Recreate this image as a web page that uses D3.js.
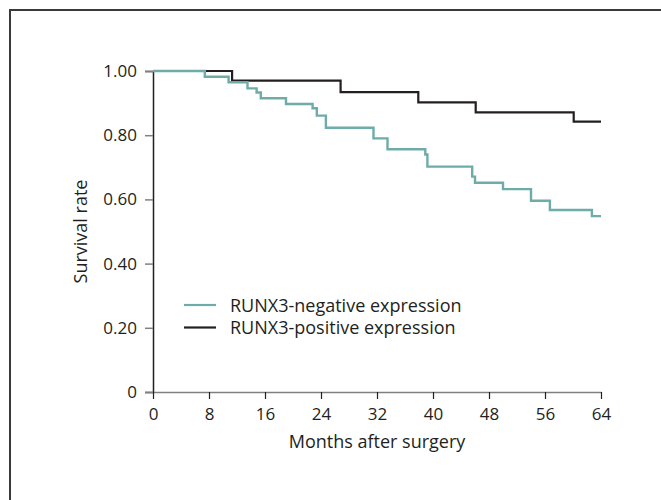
<!DOCTYPE html>
<html>
<head>
<meta charset="utf-8">
<script src="https://cdn.jsdelivr.net/npm/d3@7"></script>
<style>
  body { margin: 0; background: #fff; }
  svg text { font-family: "Open Sans", sans-serif; fill: #231f20; }
</style>
</head>
<body>
<svg width="661" height="500"></svg>
<script>
// Kaplan-Meier steps (months, survival)
const negTimes = [0, 7.4, 10.8, 13.5, 14.8, 15.4, 19.0, 22.8, 23.4, 24.7, 31.5, 33.5, 38.9, 39.2, 45.6, 46.0, 50.0, 54.0, 56.7, 62.7, 64];
const negSurv = [1.00, 0.982, 0.965, 0.946, 0.933, 0.915, 0.897, 0.884, 0.861, 0.823, 0.790, 0.756, 0.740, 0.702, 0.671, 0.652, 0.632, 0.596, 0.567, 0.548, 0.548];
const posTimes = [0, 11.3, 26.8, 37.9, 46.1, 60.1, 64];
const posSurv = [1.00, 0.970, 0.934, 0.902, 0.871, 0.842, 0.842];

const xTicks = [0, 8, 16, 24, 32, 40, 48, 56, 64];
const yTicks = [0, 0.2, 0.4, 0.6, 0.8, 1.0];
const legendLabels = ["RUNX3-negative expression", "RUNX3-positive expression"];

const teal = "#6eaca9";
const dark = "#231f20";

const svg = d3.select("svg");

// outer frame (runs off the right and bottom edges)
svg.append("rect")
    .attr("x", 10).attr("y", 10)
    .attr("width", 700).attr("height", 540)
    .attr("fill", "none").attr("stroke", "#3a3a3a").attr("stroke-width", 2);

const x = d3.scaleLinear().domain([0, 64]).range([153, 601]);
const y = d3.scaleLinear().domain([0, 1]).range([392, 71]);

// axes
const yAxis = svg.append("g").attr("transform", "translate(153,0)")
    .call(d3.axisLeft(y).tickValues(yTicks).tickSize(8).tickPadding(8)
        .tickFormat(d => d === 0 ? "0" : d3.format(".2f")(d)));
yAxis.select(".domain").attr("stroke", dark).attr("stroke-width", 1.5);
yAxis.selectAll(".tick line").attr("stroke", "#808080").attr("stroke-width", 1.5);
yAxis.selectAll(".tick text").style("font-size", "17px").attr("fill", dark);

const xAxis = svg.append("g").attr("transform", "translate(0,392)")
    .call(d3.axisBottom(x).tickValues(xTicks).tickSize(7).tickPadding(9).tickSizeOuter(0));
xAxis.select(".domain").attr("stroke", "#808080").attr("stroke-width", 1.5);
xAxis.selectAll(".tick line").attr("stroke", dark).attr("stroke-width", 1.2);
xAxis.selectAll(".tick text").style("font-size", "17px").attr("fill", dark);

// axis titles
svg.append("text")
    .attr("x", x(32)).attr("y", 448)
    .attr("text-anchor", "middle")
    .style("font-size", "18px")
    .text("Months after surgery");

svg.append("text")
    .attr("transform", "translate(86.5," + y(0.5) + ") rotate(-90)")
    .attr("text-anchor", "middle")
    .style("font-size", "18px")
    .text("Survival rate");

// curves
const line = d3.line()
    .x(d => x(d[0]))
    .y(d => y(d[1]))
    .curve(d3.curveStepAfter);

svg.append("path")
    .datum(d3.zip(posTimes, posSurv))
    .attr("d", line)
    .attr("fill", "none").attr("stroke", dark).attr("stroke-width", 2.2);

svg.append("path")
    .datum(d3.zip(negTimes, negSurv))
    .attr("d", line)
    .attr("fill", "none").attr("stroke", teal).attr("stroke-width", 2.4);

// legend
const legend = svg.append("g").attr("transform", "translate(184,305)");
const legendColors = [teal, dark];
legendLabels.forEach((lab, i) => {
    const g = legend.append("g").attr("transform", "translate(0," + (i * 22.5) + ")");
    g.append("line").attr("x1", 0).attr("x2", 32).attr("y1", 0).attr("y2", 0)
        .attr("stroke", legendColors[i]).attr("stroke-width", 2.2);
    g.append("text").attr("x", 46).attr("y", 6.5)
        .style("font-size", "18px")
        .text(lab);
});
</script>
</body>
</html>
